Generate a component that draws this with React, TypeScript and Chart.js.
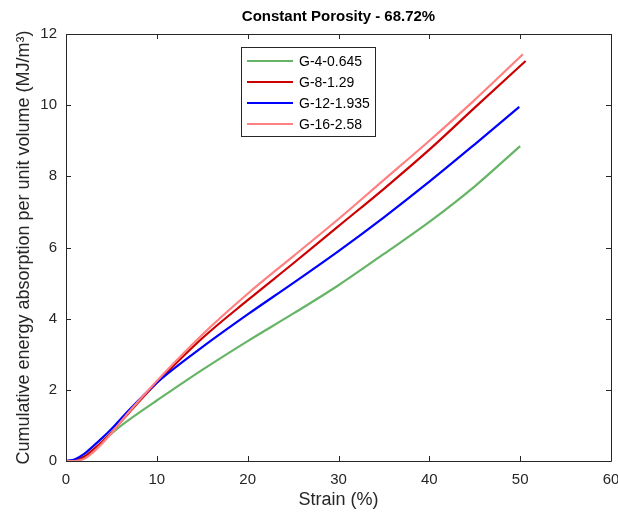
import React, { useEffect, useRef } from "react";
import { Chart, registerables } from "chart.js";

Chart.register(...registerables);

const seriesLabels = ["G-4-0.645", "G-8-1.29", "G-12-1.935", "G-16-2.58"];
const seriesColors = ["#66b466", "#cc0000", "#0000ff", "#ff8080"];

const greenStrain = [0, 1, 2, 3, 4, 5, 6, 7, 10, 15, 20, 25, 30, 35, 40, 45, 50];
const greenEnergy = [0, 0.02, 0.12, 0.3, 0.53, 0.77, 0.98, 1.17, 1.7, 2.56, 3.37, 4.14, 4.94, 5.82, 6.72, 7.72, 8.85];

const redStrain = [0, 1, 2, 3, 4, 5, 7, 10, 15, 20, 25, 30, 35, 40, 45, 50.6];
const redEnergy = [0, 0.02, 0.12, 0.32, 0.55, 0.8, 1.38, 2.2, 3.45, 4.52, 5.55, 6.6, 7.65, 8.75, 9.93, 11.24];

const blueStrain = [0, 1, 2, 3, 4, 5, 7, 10, 15, 20, 25, 30, 35, 40, 45, 49.9];
const blueEnergy = [0, 0.05, 0.2, 0.42, 0.65, 0.9, 1.45, 2.2, 3.2, 4.12, 5.0, 5.9, 6.85, 7.85, 8.9, 9.95];

const pinkStrain = [0, 0.5, 1, 1.5, 2, 3, 4, 5, 7, 10, 15, 20, 25, 30, 35, 40, 45, 50.3];
const pinkEnergy = [0, 0, 0, 0.02, 0.06, 0.25, 0.5, 0.78, 1.4, 2.25, 3.55, 4.7, 5.75, 6.8, 7.9, 9.0, 10.15, 11.43];

const xTicks = [0, 10, 20, 30, 40, 50, 60];
const yTicks = [0, 2, 4, 6, 8, 10, 12];

const titleText = "Constant Porosity - 68.72%";
const xTitle = "Strain (%)";
const yTitle = "Cumulative energy absorption per unit volume (MJ/m\u00b3)";

const FONT = "'Liberation Sans', Arial, sans-serif";
const AXIS_COLOR = "#262626";

function pts(xs: number[], ys: number[]) {
  return xs.map((x, i) => ({ x, y: ys[i] }));
}

export default function App() {
  const ref = useRef<HTMLCanvasElement | null>(null);
  useEffect(() => {
    if (!ref.current) return;
    const allX = [greenStrain, redStrain, blueStrain, pinkStrain];
    const allY = [greenEnergy, redEnergy, blueEnergy, pinkEnergy];
    const orders = [3, 2, 1, 0];

    const framePlugin = {
      id: "frame",
      afterDatasetsDraw(chart: any) {
        const { ctx, chartArea: a, scales } = chart;
        ctx.save();
        ctx.strokeStyle = AXIS_COLOR;
        ctx.lineWidth = 1;
        ctx.beginPath();
        ctx.rect(Math.round(a.left) + 0.5, Math.round(a.top) + 0.5, Math.round(a.right - a.left), Math.round(a.bottom - a.top));
        ctx.stroke();
        const tl = 5;
        ctx.beginPath();
        xTicks.forEach((v) => {
          const px = Math.round(scales.x.getPixelForValue(v)) + 0.5;
          ctx.moveTo(px, a.bottom);
          ctx.lineTo(px, a.bottom - tl);
          ctx.moveTo(px, a.top);
          ctx.lineTo(px, a.top + tl);
        });
        yTicks.forEach((v) => {
          const py = Math.round(scales.y.getPixelForValue(v)) + 0.5;
          ctx.moveTo(a.left, py);
          ctx.lineTo(a.left + tl, py);
          ctx.moveTo(a.right, py);
          ctx.lineTo(a.right - tl, py);
        });
        ctx.stroke();

        // title
        ctx.fillStyle = "#000";
        ctx.font = `bold 15px ${FONT}`;
        ctx.textAlign = "center";
        ctx.textBaseline = "middle";
        ctx.fillText(titleText, (a.left + a.right) / 2, 17);

        // legend
        const lx = 241, ly = 47, lw = 134, lh = 89;
        ctx.fillStyle = "#fff";
        ctx.fillRect(lx, ly, lw, lh);
        ctx.strokeStyle = AXIS_COLOR;
        ctx.lineWidth = 1;
        ctx.strokeRect(lx + 0.5, ly + 0.5, lw, lh);
        ctx.font = `14px ${FONT}`;
        ctx.textAlign = "left";
        seriesLabels.forEach((lab, i) => {
          const yy = ly + 14 + i * 21;
          ctx.strokeStyle = seriesColors[i];
          ctx.lineWidth = 2;
          ctx.beginPath();
          ctx.moveTo(lx + 6, yy);
          ctx.lineTo(lx + 52, yy);
          ctx.stroke();
          ctx.fillStyle = "#000";
          ctx.fillText(lab, lx + 58, yy + 1);
        });
        ctx.restore();
      },
    };

    const chart = new Chart(ref.current, {
      type: "line",
      data: {
        datasets: seriesLabels.map((lab, i) => ({
          label: lab,
          data: pts(allX[i], allY[i]),
          borderColor: seriesColors[i],
          backgroundColor: seriesColors[i],
          borderWidth: 2.2,
          pointRadius: 0,
          cubicInterpolationMode: "monotone" as const,
          fill: false,
          order: orders[i],
        })),
      },
      options: {
        animation: false,
        responsive: false,
        layout: { padding: { top: 34, right: 7, left: 0, bottom: 0 } },
        plugins: {
          legend: { display: false },
          tooltip: { enabled: false },
          title: { display: false },
        },
        scales: {
          x: {
            type: "linear",
            min: 0,
            max: 60,
            afterBuildTicks: (s: any) => {
              s.ticks = xTicks.map((v) => ({ value: v }));
            },
            afterFit: (s: any) => {
              s.height = 55;
              s.paddingLeft = 0;
              s.paddingRight = 0;
            },
            grid: { display: false, drawTicks: false },
            border: { display: false },
            ticks: { color: AXIS_COLOR, font: { family: FONT, size: 15 }, padding: 10, maxRotation: 0 },
            title: { display: true, text: xTitle, color: AXIS_COLOR, font: { family: FONT, size: 18 }, padding: { top: 0, bottom: 5 } },
          },
          y: {
            type: "linear",
            min: 0,
            max: 12,
            afterBuildTicks: (s: any) => {
              s.ticks = yTicks.map((v) => ({ value: v }));
            },
            afterFit: (s: any) => {
              s.width = 66;
              s.paddingTop = 0;
              s.paddingBottom = 0;
            },
            grid: { display: false, drawTicks: false },
            border: { display: false },
            ticks: { color: AXIS_COLOR, font: { family: FONT, size: 15 }, padding: 9 },
            title: { display: true, text: yTitle, color: AXIS_COLOR, font: { family: FONT, size: 18 }, padding: { top: 13, bottom: 0 } },
          },
        },
      },
      plugins: [framePlugin],
    });
    return () => chart.destroy();
  }, []);

  return (
    <div style={{ position: "fixed", left: 0, top: 0, width: 618, height: 516, background: "#fff" }}>
      <canvas ref={ref} width={618} height={516} style={{ display: "block" }} />
    </div>
  );
}
